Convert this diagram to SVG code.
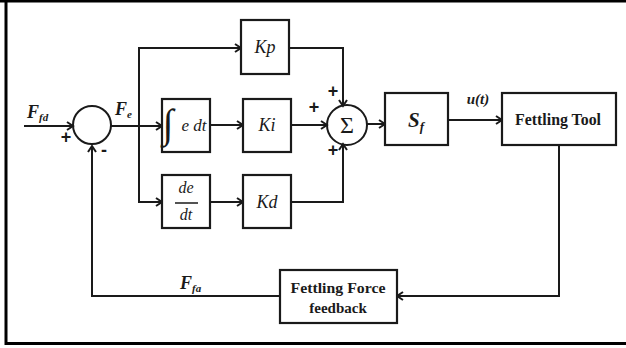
<svg xmlns="http://www.w3.org/2000/svg" width="626" height="348" viewBox="0 0 626 348">
<defs>
<marker id="arr" markerWidth="10" markerHeight="10" refX="8" refY="5" orient="auto" markerUnits="userSpaceOnUse">
<path d="M2,1 L8,5 L2,9" fill="none" stroke="#1a1a1a" stroke-width="2"/>
</marker>
<style>
.bx{fill:#fff;stroke:#1a1a1a;stroke-width:2.2}
.ln{fill:none;stroke:#1a1a1a;stroke-width:2}
.ar{marker-end:url(#arr)}
.it{font-family:"Liberation Serif",serif;font-style:italic;fill:#1a1a1a}
.bi{font-family:"Liberation Serif",serif;font-style:italic;font-weight:bold;fill:#1a1a1a}
.bd{font-family:"Liberation Serif",serif;font-weight:bold;fill:#1a1a1a}
.sg{font-family:"Liberation Sans",sans-serif;font-weight:bold;fill:#1a1a1a;font-size:18px}
</style>
</defs>
<rect width="626" height="348" fill="#fff"/>
<g id="frame" fill="none" stroke="#000" stroke-width="3">
<path d="M6,0 V343.5 H626"/>
<path d="M0,1 H626"/>
</g>
<g id="connectors">
<path class="ln ar" d="M24,126 H73"/>
<path class="ln ar" d="M111,126 H162"/>
<path class="ln ar" d="M139,126 V48 H241"/>
<path class="ln ar" d="M139,126 V202 H162"/>
<path class="ln ar" d="M210,125 H243"/>
<path class="ln ar" d="M210,202 H243"/>
<path class="ln ar" d="M289,48 H343 V106"/>
<path class="ln ar" d="M291,125 H327"/>
<path class="ln ar" d="M291,202 H343 V144"/>
<path class="ln ar" d="M367,124 H385"/>
<path class="ln ar" d="M448,120 H502"/>
<path class="ln ar" d="M559,145 V296 H397"/>
<path class="ln ar" d="M280,296 H92 V146"/>
</g>
<g id="sum1">
<circle cx="92" cy="125" r="19" class="ln" stroke-width="2.2"/>
<text x="66" y="143" class="sg" text-anchor="middle">+</text>
<text x="104" y="156" class="sg" text-anchor="middle">-</text>
</g>
<g id="kp">
<rect x="241" y="20" width="48" height="54" class="bx"/>
<text x="265" y="53" class="it" font-size="18" text-anchor="middle">Kp</text>
</g>
<g id="integral">
<rect x="162" y="99" width="48" height="53" class="bx"/>
<text x="168" y="137" class="it" font-size="40" text-anchor="middle">∫</text>
<text x="194" y="131" class="it" font-size="17" text-anchor="middle">e dt</text>
</g>
<g id="ki">
<rect x="243" y="99" width="48" height="53" class="bx"/>
<text x="267" y="131" class="it" font-size="18" text-anchor="middle">Ki</text>
</g>
<g id="deriv">
<rect x="162" y="175" width="48" height="53" class="bx"/>
<text x="186" y="193" class="it" font-size="16" text-anchor="middle">de</text>
<path d="M175,203 H198" stroke="#1a1a1a" stroke-width="1.5"/>
<text x="186" y="220" class="it" font-size="16" text-anchor="middle">dt</text>
</g>
<g id="kd">
<rect x="243" y="175" width="48" height="53" class="bx"/>
<text x="267" y="208" class="it" font-size="18" text-anchor="middle">Kd</text>
</g>
<g id="sum2">
<circle cx="347" cy="125" r="20" class="ln" stroke-width="2.2"/>
<text x="347" y="133" font-family="Liberation Serif,serif" font-size="24" fill="#1a1a1a" text-anchor="middle">Σ</text>
<text x="333" y="97" class="sg" text-anchor="middle">+</text>
<text x="314" y="113" class="sg" text-anchor="middle">+</text>
<text x="333" y="156" class="sg" text-anchor="middle">+</text>
</g>
<g id="sf">
<rect x="385" y="93" width="63" height="52" class="bx"/>
<text x="408" y="127" class="bi" font-size="21">S<tspan font-size="13" dy="4">f</tspan></text>
</g>
<g id="fettling-tool">
<rect x="502" y="93" width="114" height="52" class="bx"/>
<text x="558" y="125" class="bd" font-size="16" text-anchor="middle" textLength="86" lengthAdjust="spacingAndGlyphs">Fettling Tool</text>
</g>
<g id="feedback">
<rect x="280" y="270" width="117" height="53" class="bx"/>
<text x="338" y="293" class="bd" font-size="15" text-anchor="middle" textLength="95" lengthAdjust="spacingAndGlyphs">Fettling Force</text>
<text x="338" y="313" class="bd" font-size="15" text-anchor="middle">feedback</text>
</g>
<g id="labels">
<text x="27" y="118" class="bi" font-size="18">F<tspan font-size="11" dy="3">fd</tspan></text>
<text x="115" y="115" class="bi" font-size="18">F<tspan font-size="11" dy="3">e</tspan></text>
<text x="180" y="289" class="bi" font-size="18">F<tspan font-size="11" dy="3">fa</tspan></text>
<text x="478" y="104" class="bi" font-size="15" text-anchor="middle">u(t)</text>
</g>
</svg>
